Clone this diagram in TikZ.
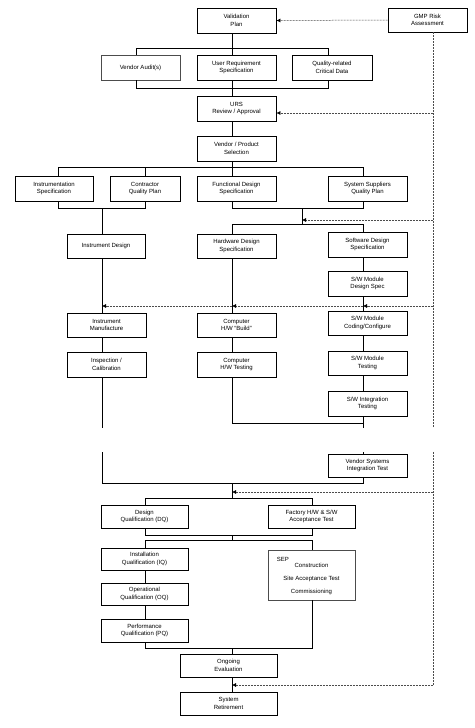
\documentclass[tikz,border=0pt]{standalone}
\usepackage{fontspec}
\setmainfont{Liberation Sans}
\usetikzlibrary{arrows.meta,shadows}
\begin{document}
\begin{tikzpicture}[x=1pt,y=-1pt,
  box/.style={draw=black,line width=0.9pt,fill=white,minimum width=79pt,minimum height=25pt,
    inner sep=1pt,align=center,font=\fontsize{6}{7.4}\selectfont,
    drop shadow={shadow xshift=0.7pt,shadow yshift=-0.7pt,fill=black!60,opacity=1}},
  lightbox/.style={box,line width=0.5pt,draw=black!70},
  conn/.style={line width=1pt,black},
  dashln/.style={line width=0.5pt,black!70,dash pattern=on 2pt off 1pt},
  dasharr/.style={dashln,-{Latex[length=4pt,width=4pt,black]}}]
\useasboundingbox (0,0) rectangle (474,728);
% columns and rows
\foreach \n/\v in {58/58,102/102,136/136,145/145,232/232,302/302,312/312,328/328,363/363,433/433}
  {\coordinate (k\n) at (\v,0);}
\foreach \n/\v in {48/48,88/88,113/113,167/167,208/208,220/220,224/224,306/306,423/423,428/428,452/452,483/483,492/492,498/498,535/535,540/540,648/648,685/685}
  {\coordinate (y\n) at (0,\v);}
% nodes
\node[box] (vp) at (236.5,20.5) {Validation\\Plan};
\node[box,minimum height=24pt] (gmp) at (427.5,20) {GMP Risk\\Assessment};
\node[lightbox] (va) at (140.5,67.5) {Vendor Audit(s)};
\node[box] (urs) at (236.5,67.5) {User Requirement\\Specification};
\node[box,minimum width=80pt] (qcd) at (332,67.5) {Quality-related\\Critical Data};
\node[box] (ursr) at (236.5,108.5) {URS\\Review / Approval};
\node[box] (vps) at (236.5,148.5) {Vendor / Product\\Selection};
\node[box,minimum width=78pt] (is) at (54,188.5) {Instrumentation\\Specification};
\node[box,minimum width=70pt] (cqp) at (145,188.5) {Contractor\\Quality Plan};
\node[box] (fds) at (236.5,188.5) {Functional Design\\Specification};
\node[box] (ssqp) at (367.5,188.5) {System Suppliers\\Quality Plan};
\node[box,minimum width=78pt,minimum height=24pt] (id) at (106,246) {Instrument Design};
\node[box,minimum height=24pt] (hds) at (236.5,246) {Hardware Design\\Specification};
\node[box] (sds) at (367.5,244.5) {Software Design\\Specification};
\node[box] (swmd) at (367.5,283.5) {S/W Module\\Design Spec};
\node[box,minimum height=24pt] (im) at (106.5,325) {Instrument\\Manufacture};
\node[box,minimum height=24pt] (hwb) at (236.5,325) {Computer\\H/W ``Build''};
\node[box,minimum height=24pt] (swc) at (367.5,323) {S/W Module\\Coding/Configure};
\node[box] (ic) at (106.5,364.5) {Inspection /\\Calibration};
\node[box] (hwt) at (236.5,364.5) {Computer\\H/W Testing};
\node[box,minimum height=24pt] (swt) at (367.5,363) {S/W Module\\Testing};
\node[box] (swi) at (367.5,403.5) {S/W Integration\\Testing};
\node[box,minimum height=23pt] (vsit) at (367.5,465.5) {Vendor Systems\\Integration Test};
\node[box,minimum width=87pt,minimum height=23pt] (dq) at (144.5,516.5) {Design\\Qualification (DQ)};
\node[box,minimum width=87pt,minimum height=23pt] (fat) at (311.5,516.5) {Factory H/W \& S/W\\Acceptance Test};
\node[box,minimum width=87pt,minimum height=22pt] (iq) at (144.5,559) {Installation\\Qualification (IQ)};
\node[lightbox,minimum width=87pt,minimum height=50pt] (sep) at (311.5,575) {};
\node[font=\fontsize{6}{7.4}\selectfont,align=center,inner sep=0pt] (septxt) at (311.5,579) {Construction\\[6pt]Site Acceptance Test\\[6pt]Commissioning};
\node[font=\fontsize{6}{7.4}\selectfont,anchor=north west,inner sep=0pt] (seplbl) at ([xshift=9pt,yshift=-7pt]sep.north west) {SEP};
\node[box,minimum width=87pt,minimum height=22pt] (oq) at (144.5,594) {Operational\\Qualification (OQ)};
\node[box,minimum width=87pt,minimum height=23pt] (pq) at (144.5,630.5) {Performance\\Qualification (PQ)};
\node[box,minimum width=97pt,minimum height=23pt] (oe) at (228.5,665.5) {Ongoing\\Evaluation};
\node[box,minimum width=97pt,minimum height=23pt] (sr) at (228.5,703.5) {System\\Retirement};
% solid connectors
\draw[conn] (vp.south -| k232) -- (k232 |- y48);
\draw[conn] (va.north -| k136) |- (k328 |- y48) -- (qcd.north -| k328);
\draw[conn] (urs.north -| k232) -- (k232 |- y48);
\draw[conn] (va.south -| k136) |- (k328 |- y88) -- (qcd.south -| k328);
\draw[conn] (urs.south -| k232) -- (ursr.north -| k232);
\draw[conn] (ursr.south -| k232) -- (vps.north -| k232);
\draw[conn] (vps.south -| k232) -- (k232 |- y167);
\draw[conn] (is.north -| k58) |- (k363 |- y167) -- (ssqp.north -| k363);
\draw[conn] (cqp.north -| k145) -- (k145 |- y167);
\draw[conn] (fds.north -| k232) -- (k232 |- y167);
\draw[conn] (is.south -| k58) |- (k145 |- y208) -- (cqp.south -| k145);
\draw[conn] (k102 |- y208) -- (id.north -| k102);
\draw[conn] (fds.south -| k232) |- (k363 |- y208) -- (ssqp.south -| k363);
\draw[conn] (k302 |- y208) -- (k302 |- y224);
\draw[conn] (hds.north -| k232) |- (k363 |- y224) -- (sds.north -| k363);
\draw[conn] (id.south -| k102) -- (im.north -| k102);
\draw[conn] (im.south -| k102) -- (ic.north -| k102);
\draw[conn] (ic.south -| k102) -- (k102 |- y428);
\draw[conn] (hds.south -| k232) -- (hwb.north -| k232);
\draw[conn] (hwb.south -| k232) -- (hwt.north -| k232);
\draw[conn] (hwt.south -| k232) |- (k363 |- y423);
\draw[conn] (sds.south -| k363) -- (swmd.north -| k363);
\draw[conn] (swmd.south -| k363) -- (swc.north -| k363);
\draw[conn] (swc.south -| k363) -- (swt.north -| k363);
\draw[conn] (swt.south -| k363) -- (swi.north -| k363);
\draw[conn] (swi.south -| k363) -- (k363 |- y428);
\draw[conn] (k102 |- y452) |- (k363 |- y483) -- (vsit.south -| k363);
\draw[conn] (k363 |- y452) -- (vsit.north -| k363);
\draw[conn] (k232 |- y483) -- (k232 |- y498);
\draw[conn] (dq.north -| k145) |- (k312 |- y498) -- (fat.north -| k312);
\draw[conn] (dq.south -| k145) |- (k312 |- y535) -- (fat.south -| k312);
\draw[conn] (k232 |- y535) -- (k232 |- y540);
\draw[conn] (iq.north -| k145) |- (k312 |- y540) -- (sep.north -| k312);
\draw[conn] (iq.south -| k145) -- (oq.north -| k145);
\draw[conn] (oq.south -| k145) -- (pq.north -| k145);
\draw[conn] (pq.south -| k145) |- (k312 |- y648) -- (sep.south -| k312);
\draw[conn] (k232 |- y648) -- (oe.north -| k232);
\draw[conn] (oe.south -| k232) -- (sr.north -| k232);
% dashed risk-assessment feeds
\draw[dasharr] (gmp.west) -- (vp.east);
\draw[dashln] (gmp.south -| k433) -- (k433 |- y428);
\draw[dashln] (k433 |- y452) -- (k433 |- y685);
\draw[dasharr] (k433 |- y113) -- (ursr.east |- y113);
\draw[dasharr] (k433 |- y220) -- (k302 |- y220);
\draw[dasharr] (k433 |- y306) -- (k363 |- y306);
\draw[dasharr] (k363 |- y306) -- (k232 |- y306);
\draw[dasharr] (k232 |- y306) -- (k102 |- y306);
\draw[dasharr] (k433 |- y492) -- (k232 |- y492);
\draw[dasharr] (k433 |- y685) -- (k232 |- y685);
\end{tikzpicture}
\end{document}
